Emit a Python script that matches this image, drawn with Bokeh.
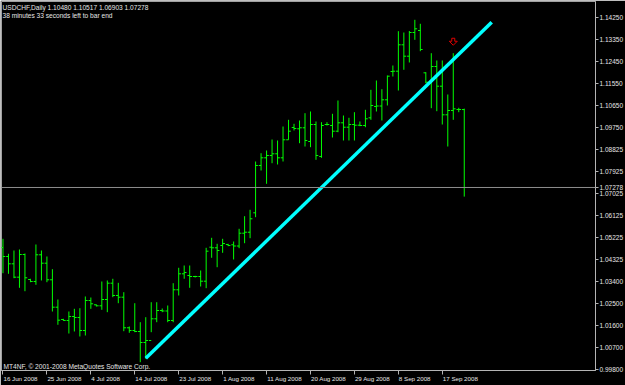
from bokeh.plotting import figure
from bokeh.models import (ColumnDataSource, Range1d, LinearAxis, FixedTicker,
                          Label, Span, NumeralTickFormatter)
from bokeh.embed import file_html
from bokeh.resources import INLINE

# ---------------- data ----------------
symbol = "USDCHF"
period = "Daily"
timer_text = "38 minutes 33 seconds left to bar end"
copyright_text = "MT4NF, \u00a9 2001-2008 MetaQuotes Software Corp."

bar_open = [1.04813, 1.04443, 1.04143, 1.03593, 1.04525, 1.03498, 1.03416, 1.04513, 1.04168, 1.03486,
            1.02360, 1.01855, 1.01814, 1.01978, 1.01937, 1.01403, 1.02635, 1.02459, 1.02417, 1.02676,
            1.03346, 1.02841, 1.02771, 1.01514, 1.01403, 1.01362, 1.00910, 1.00992, 1.01883, 1.02224,
            1.02204, 1.01814, 1.03075, 1.03732, 1.03662, 1.03621, 1.03621, 1.03428, 1.04825, 1.04800,
            1.04895, 1.04936, 1.04924, 1.04874, 1.05400, 1.05441, 1.06238, 1.08182, 1.08498, 1.08593,
            1.08663, 1.08498, 1.09238, 1.09743, 1.09690, 1.09731, 1.09168, 1.09866, 1.08552, 1.09866,
            1.09825, 1.09591, 1.09936, 1.09755, 1.09866, 1.09838, 1.09825, 1.10142, 1.10606, 1.10626,
            1.10881, 1.12044, 1.12056, 1.13141, 1.12673, 1.13646, 1.13728, 1.11990, 1.11604, 1.12249,
            1.11440, 1.10265, 1.10442, 1.10483, 1.10480]
bar_high = [1.05170, 1.04554, 1.04690, 1.04731, 1.04566, 1.03527, 1.04936, 1.04690, 1.04443, 1.03921,
            1.02676, 1.01883, 1.02183, 1.02294, 1.02319, 1.02800, 1.02758, 1.02471, 1.03416, 1.03457,
            1.03527, 1.03362, 1.02976, 1.01567, 1.02524, 1.01744, 1.01949, 1.02565, 1.02565, 1.02307,
            1.02430, 1.03346, 1.03979, 1.04073, 1.04073, 1.03650, 1.03868, 1.04800, 1.05211, 1.04965,
            1.05170, 1.04965, 1.05059, 1.05581, 1.06099, 1.06362, 1.08346, 1.08687, 1.08798, 1.09250,
            1.09209, 1.09784, 1.10059, 1.09895, 1.10031, 1.10331, 1.10401, 1.09990, 1.09961, 1.09961,
            1.10306, 1.10852, 1.10236, 1.10142, 1.10372, 1.09990, 1.10470, 1.11292, 1.11674, 1.11317,
            1.11880, 1.12290, 1.13700, 1.13646, 1.13708, 1.14168, 1.14004, 1.12015, 1.12796, 1.12496,
            1.12496, 1.11099, 1.12796, 1.10553, 1.10517]
bar_low = [1.03757, 1.03732, 1.03551, 1.03157, 1.03017, 1.03387, 1.03280, 1.03457, 1.03387, 1.02183,
           1.01637, 1.01801, 1.01279, 1.01362, 1.01156, 1.01197, 1.02294, 1.02389, 1.02253, 1.02155,
           1.02771, 1.02524, 1.01374, 1.01308, 1.01333, 1.00100, 1.00240, 1.01333, 1.01744, 1.02155,
           1.01744, 1.01744, 1.02841, 1.03527, 1.03157, 1.03580, 1.03210, 1.03141, 1.04390, 1.04003,
           1.04595, 1.04866, 1.04320, 1.04784, 1.04989, 1.05195, 1.06058, 1.07976, 1.07430, 1.08276,
           1.08223, 1.08346, 1.09238, 1.09620, 1.09098, 1.08962, 1.08934, 1.08416, 1.08498, 1.09825,
           1.09332, 1.09550, 1.09209, 1.09209, 1.09209, 1.09797, 1.09755, 1.10059, 1.10401, 1.10031,
           1.10647, 1.11839, 1.11263, 1.12114, 1.12414, 1.13346, 1.12878, 1.11563, 1.10536, 1.10413,
           1.09866, 1.08962, 1.10059, 1.10372, 1.06903]
bar_close = [1.04443, 1.04143, 1.03593, 1.04525, 1.03568, 1.03416, 1.04513, 1.04168, 1.03486, 1.02360,
             1.01826, 1.01814, 1.01978, 1.01937, 1.01403, 1.02635, 1.02500, 1.02417, 1.02676, 1.03346,
             1.02841, 1.02771, 1.01514, 1.01403, 1.01362, 1.00910, 1.00992, 1.01883, 1.02224, 1.02204,
             1.01814, 1.03075, 1.03732, 1.03786, 1.03621, 1.03621, 1.03428, 1.04661, 1.04800, 1.04690,
             1.04977, 1.04895, 1.04874, 1.05400, 1.05441, 1.05992, 1.08182, 1.08498, 1.08593, 1.08663,
             1.08498, 1.09238, 1.09591, 1.09702, 1.09731, 1.09209, 1.09866, 1.08593, 1.09825, 1.09866,
             1.09591, 1.09936, 1.09755, 1.09866, 1.09838, 1.09825, 1.10101, 1.10647, 1.10626, 1.10881,
             1.11851, 1.12056, 1.13141, 1.12673, 1.13646, 1.13798, 1.12948, 1.11604, 1.12249, 1.11440,
             1.10265, 1.10442, 1.10511, 1.10483, 1.07278]

date_tick_bars = [0, 8, 16, 24, 32, 40, 48, 56, 64, 72, 80]
date_tick_labels = ["16 Jun 2008", "25 Jun 2008", "4 Jul 2008", "14 Jul 2008", "23 Jul 2008",
                    "1 Aug 2008", "11 Aug 2008", "20 Aug 2008", "29 Aug 2008", "8 Sep 2008",
                    "17 Sep 2008"]
price_ticks = [1.14250, 1.13350, 1.12450, 1.11550, 1.10650, 1.09750, 1.08825, 1.07925, 1.07025,
               1.06125, 1.05225, 1.04325, 1.03400, 1.02500, 1.01600, 1.00700, 0.99800]

bid_price = bar_close[-1]
trend_bars = [26, 89]
trend_prices = [1.0026, 1.1407]
arrow_bar = 82
arrow_price = 1.1341

# ---------------- layout / styling ----------------
W, H = 625, 385
B_LEFT, B_TOP, B_RIGHT, B_BOTTOM = 1, 1, 29, 15
FW, FH = W - B_LEFT - B_RIGHT, H - B_TOP - B_BOTTOM
X0, X1 = -0.27, 107.9
Y0, Y1 = 0.99759, 1.14920

BAR = "#00ff00"
FONT = "Liberation Sans"
TXT = "#e6e6e6"
AXC = "#b4b4b4"
TICK_HALF = 0.42
DATE_FS = 6.2
PRICE_FS = 6.5
PX_PER_BAR = FW / (X1 - X0)

# approximate advance widths (em) of Liberation Sans, to left-align date labels on their ticks
EM = {" ": 0.278, "J": 0.5, "u": 0.556, "n": 0.556, "l": 0.222, "A": 0.667, "g": 0.556,
      "S": 0.667, "e": 0.556, "p": 0.556, ".": 0.278}


def text_px(s, fs):
    return sum(EM.get(ch, 0.556) for ch in s) * fs


idx = list(range(len(bar_open)))
src = ColumnDataSource(dict(
    x=idx,
    xl=[i - TICK_HALF for i in idx],
    xr=[i + TICK_HALF for i in idx],
    o=bar_open, h=bar_high, l=bar_low, c=bar_close))

p = figure(width=W, height=H, output_backend="svg", toolbar_location=None, tools="",
           x_range=Range1d(X0, X1), y_range=Range1d(Y0, Y1),
           y_axis_location=None,
           min_border_left=B_LEFT, min_border_top=B_TOP,
           min_border_right=B_RIGHT, min_border_bottom=B_BOTTOM,
           background_fill_color="black", border_fill_color="black",
           outline_line_color="#a0a0a0", outline_line_width=1)
p.grid.visible = False

# bottom (date) axis: tick marks at the dates (minor ticks), labels starting at each tick
label_pos = [b + (text_px(s, DATE_FS) / 2 + 0.5) / PX_PER_BAR
             for b, s in zip(date_tick_bars, date_tick_labels)]
xa = p.xaxis[0]
xa.ticker = FixedTicker(ticks=label_pos, minor_ticks=date_tick_bars)
xa.major_label_overrides = {lp: s for lp, s in zip(label_pos, date_tick_labels)}
xa.axis_line_color = AXC
xa.major_tick_line_color = None
xa.major_tick_out = 4
xa.major_tick_in = 0
xa.minor_tick_line_color = AXC
xa.minor_tick_out = 4
xa.minor_tick_in = 0
xa.major_label_standoff = 0
xa.major_label_text_color = TXT
xa.major_label_text_font = FONT
xa.major_label_text_font_size = "%spx" % DATE_FS

# right (price) axis, with the current bid price shown on the scale as well
ya = LinearAxis(ticker=FixedTicker(ticks=price_ticks + [bid_price]),
                formatter=NumeralTickFormatter(format="0.00000"),
                major_label_overrides={bid_price: "%.5f" % bid_price})
ya.axis_line_color = AXC
ya.major_tick_line_color = AXC
ya.major_tick_out = 3
ya.major_tick_in = 0
ya.minor_tick_out = 0
ya.minor_tick_in = 0
ya.major_label_standoff = 1
ya.major_label_text_color = TXT
ya.major_label_text_font = FONT
ya.major_label_text_font_size = "%spx" % PRICE_FS
p.add_layout(ya, "right")

# bid line
p.add_layout(Span(location=bid_price, dimension="width", line_color="#8c8c8c", line_width=1))

# OHLC bars
p.segment(x0="x", y0="l", x1="x", y1="h", source=src, line_color=BAR, line_width=1)
p.segment(x0="xl", y0="o", x1="x", y1="o", source=src, line_color=BAR, line_width=1)
p.segment(x0="x", y0="c", x1="xr", y1="c", source=src, line_color=BAR, line_width=1)

# trend line
p.line(trend_bars, trend_prices, line_color="#00ffff", line_width=3.5)

# sell-arrow object (hollow down arrow, shape in pixels from its anchor)
ppx_x = (X1 - X0) / FW
ppx_y = (Y1 - Y0) / FH
arrow_shape = [(-1.5, 0), (1.5, 0), (1.5, 3), (4, 3), (0, 7), (-4, 3), (-1.5, 3)]
p.patch([arrow_bar + dx * ppx_x for dx, dy in arrow_shape],
        [arrow_price - dy * ppx_y for dx, dy in arrow_shape],
        fill_color="black", line_color="#e00000", line_width=1)

# info texts
head = "%s,%s  %.5f %.5f %.5f %.5f" % (symbol, period, bar_open[-1], bar_high[-1],
                                        bar_low[-1], bar_close[-1])
for txt, yy in [(head, FH - 5.5), (timer_text, FH - 14)]:
    p.add_layout(Label(x=1, y=yy, x_units="screen", y_units="screen", text=txt,
                       text_color=TXT, text_font=FONT, text_font_size="6.6px",
                       text_baseline="middle"))
p.add_layout(Label(x=2, y=4, x_units="screen", y_units="screen", text=copyright_text,
                   text_color=TXT, text_font=FONT, text_font_size="6.6px",
                   text_baseline="middle"))

open("out.html", "w").write(file_html(p, INLINE))
